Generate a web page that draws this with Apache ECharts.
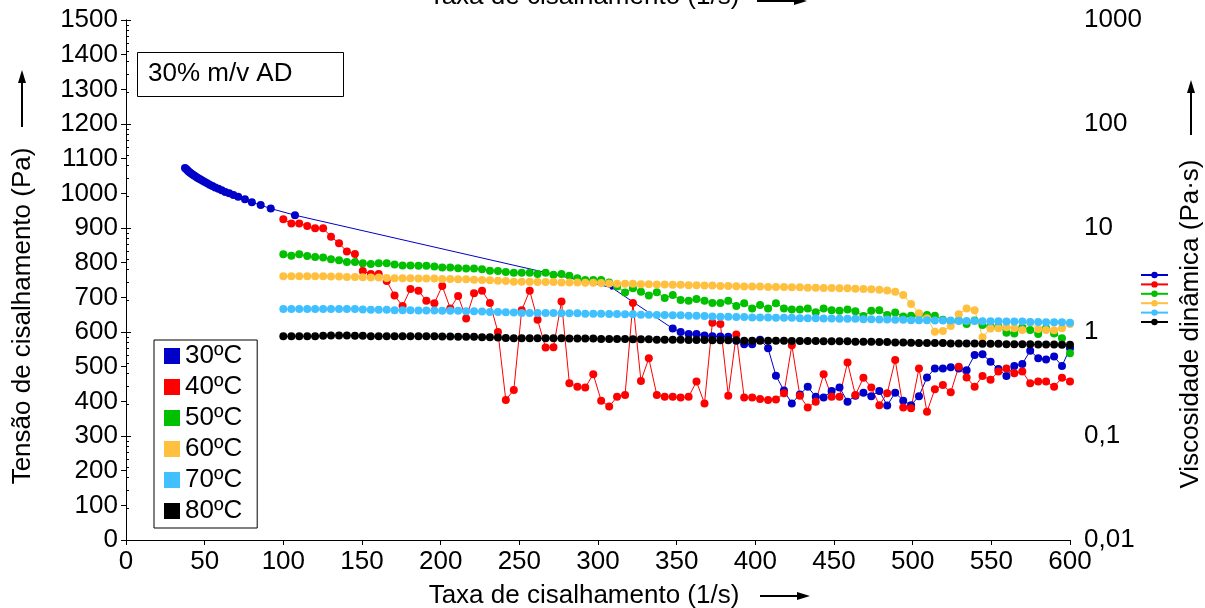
<!DOCTYPE html>
<html>
<head>
<meta charset="utf-8">
<script src="https://cdn.jsdelivr.net/npm/echarts@6/dist/echarts.min.js"></script>
<style>html,body{margin:0;padding:0;background:#fff}#c{width:1205px;height:608px}</style>
</head>
<body>
<div id="c"></div>
<script>
// ---------------- DATA ----------------
const seriesNames = ['30ºC', '40ºC', '50ºC', '60ºC', '70ºC', '80ºC'];
const xTicks = [0, 600, 50];
const yTicksLeft = [0, 1500, 100];
const rightTickLabels = ['0,01', '0,1', '1', '10', '100', '1000'];

// shear rate grid (1/s) used by 40–80 ºC
const rates = [100.0,105.1,110.1,115.2,120.2,125.3,130.3,135.4,140.4,145.5,
  150.5,155.6,160.6,165.7,170.7,175.8,180.8,185.9,190.9,196.0,
  201.0,206.1,211.1,216.2,221.2,226.3,231.3,236.4,241.4,246.5,
  251.5,256.6,261.6,266.7,271.7,276.8,281.8,286.9,291.9,297.0,
  302.0,307.1,312.1,317.2,322.2,327.3,332.3,337.4,342.4,347.5,
  352.5,357.6,362.6,367.7,372.7,377.8,382.8,387.9,392.9,398.0,
  403.0,408.1,413.1,418.2,423.2,428.3,433.3,438.4,443.4,448.5,
  453.5,458.6,463.6,468.7,473.7,478.8,483.8,488.9,494.0,499.0,
  504.0,509.1,514.1,519.2,524.2,529.3,534.3,539.4,544.4,549.5,
  554.5,559.6,564.6,569.7,574.7,579.8,584.8,589.9,594.9,600.0];

// 30 ºC has its own shear rates
const rates30 = [37.5,38.2,38.9,39.6,40.4,41.2,42.1,43.0,44.0,45.1,
  46.2,47.4,48.7,50.1,51.6,53.2,54.9,56.7,58.7,60.8,
  63.1,65.6,68.3,71.3,75.6,80.0,85.6,92.0,107.4,308.7,
  347.5,352.5,357.6,362.6,367.7,372.7,377.8,382.8,387.9,392.9,
  398.0,403.0,408.1,413.1,418.2,423.2,428.3,433.3,438.4,443.4,
  448.5,453.5,458.6,463.6,468.7,473.7,478.8,483.8,488.9,494.0,
  499.0,504.0,509.1,514.1,519.2,524.2,529.3,534.3,539.4,544.4,
  549.5,554.5,559.6,564.6,569.7,574.7,579.8,584.8,589.9,594.9,600.0];
const stress30 = [1073,1070,1067,1064,1061,1058,1055,1052,1049,1046,
  1043,1040,1036,1033,1029,1025,1021,1017,1013,1009,
  1004,1000,995,990,983,974,966,956,937,728,
  610,600,594,594,590,588,587,586,575,565,
  565,578,553,474,431,394,420,442,413,411,
  430,440,399,416,425,415,430,388,425,402,
  389,415,469,495,495,498,495,490,534,536,
  514,493,473,502,508,546,524,521,529,502,553];

const stress40 = [925,913,913,906,899,899,875,856,832,825,
  776,767,767,747,705,675,724,719,690,683,
  733,668,704,639,712,719,684,600,404,433,
  663,719,635,555,556,688,452,442,440,478,
  402,385,413,418,684,459,524,418,413,413,
  411,413,457,394,627,623,416,593,411,411,
  407,404,405,423,562,416,382,399,478,413,
  413,512,418,468,440,389,423,519,382,380,
  495,370,435,447,426,500,469,442,473,462,
  486,495,481,486,452,457,457,442,468,457];

const stress50 = [824,820,824,819,816,815,810,807,802,802,
  798,796,798,798,795,792,792,791,791,789,
  786,786,784,783,783,781,777,776,773,771,
  771,771,767,771,765,767,762,755,750,750,
  750,743,731,714,726,716,705,715,698,707,
  692,690,695,690,684,684,690,675,683,668,
  678,668,683,668,665,665,668,657,668,663,
  661,665,660,646,661,663,649,656,645,647,
  650,649,647,635,630,633,623,633,620,615,
  615,598,596,613,606,594,611,596,582,539];

const stress60 = [761,761,761,761,761,761,760,760,759,759,
  758,757,757,756,755,755,755,754,754,754,
  753,753,752,752,751,750,749,748,747,745,
  745,745,744,744,744,743,743,743,742,742,
  741,740,739,739,739,738,738,737,737,736,
  736,735,735,734,734,733,733,732,731,731,
  731,730,730,730,729,729,728,728,727,727,
  726,726,725,724,723,722,720,716,707,681,
  654,640,601,603,617,651,668,663,585,610,
  611,614,611,606,628,609,606,605,611,623];

const stress70 = [666,666,666,666,666,666,666,666,666,666,
  665,664,664,664,663,663,663,662,662,662,
  661,661,661,660,660,659,658,658,657,656,
  655,655,655,655,655,654,654,654,653,653,
  653,652,652,651,651,650,650,649,649,648,
  648,647,647,646,645,644,644,643,643,642,
  642,642,641,641,641,640,640,640,639,639,
  638,638,638,637,637,636,636,635,635,634,
  634,634,633,633,633,632,632,632,631,631,
  631,630,630,630,629,629,628,628,628,627];

const stress80 = [588,588,588,588,588,589,590,590,590,589,
  589,588,588,588,588,588,588,588,588,588,
  587,587,586,586,586,585,585,584,583,582,
  582,582,582,582,582,582,581,581,581,581,
  580,580,580,580,579,579,579,578,578,578,
  578,577,577,577,576,576,576,576,575,575,
  575,575,575,575,574,574,574,574,573,573,
  573,573,572,572,572,571,571,570,570,569,
  568,568,568,568,567,567,567,567,566,566,
  566,565,565,565,565,564,564,564,563,563];

const colors = ['#0000C8', '#FF0000', '#00C000', '#FFC040', '#40C0FF', '#000000'];
// --------------------------------------

const FONT = 'Liberation Sans, Arial, sans-serif';
const FS = 26;

function pairs(xs, ys) { return xs.map((x, i) => [x, ys[i]]); }
const allY = [stress30, stress40, stress50, stress60, stress70, stress80];
const allX = [rates30, rates, rates, rates, rates, rates];

const series = seriesNames.map((n, k) => {
  let data = pairs(allX[k], allY[k]);
  if (k === 0) {
    data = data.map(d => d[0] > 300 && d[0] < 340 ? { value: d, symbolSize: 4 } : d);
  }
  return {
    name: n, type: 'line', xAxisIndex: 0, yAxisIndex: 0,
    data: data, symbol: 'circle', symbolSize: 8, showSymbol: true,
    color: colors[k],
    lineStyle: { width: 1, color: colors[k] },
    itemStyle: { color: colors[k] },
    animation: false
  };
});

function arrowH(x1, x2, y) {
  return [
    { type: 'line', shape: { x1: x1, y1: y, x2: x2 - 8, y2: y }, style: { stroke: '#000', lineWidth: 2 } },
    { type: 'polygon', shape: { points: [[x2, y], [x2 - 13, y - 4], [x2 - 13, y + 4]] }, style: { fill: '#000' } }
  ];
}
function arrowV(x, y1, y2) { // y1 bottom, y2 top (head)
  return [
    { type: 'line', shape: { x1: x, y1: y1, x2: x, y2: y2 + 8 }, style: { stroke: '#000', lineWidth: 2 } },
    { type: 'polygon', shape: { points: [[x, y2], [x - 4, y2 + 13], [x + 4, y2 + 13]] }, style: { fill: '#000' } }
  ];
}

const chart = echarts.init(document.getElementById('c'), null, { renderer: 'canvas' });
chart.setOption({
  backgroundColor: '#fff',
  animation: false,
  textStyle: { fontFamily: FONT },
  grid: { left: 126, right: 135, top: 20, bottom: 68, containLabel: false, outerBoundsMode: 'none' },
  title: {
    text: '30% m/v AD', left: 137, top: 52,
    padding: [9, 51, 10, 11],
    borderColor: '#000', borderWidth: 1,
    textStyle: { fontFamily: FONT, fontSize: FS, fontWeight: 'normal', color: '#000' }
  },
  legend: [{
    data: seriesNames.map(n => ({ name: n, icon: 'rect' })),
    orient: 'vertical', left: 154, top: 340,
    itemWidth: 16, itemHeight: 16, itemGap: 5, itemTextGap: 6,
    padding: [3, 15, 4, 10],
    borderColor: '#000', borderWidth: 1,
    textStyle: { fontFamily: FONT, fontSize: FS, color: '#000' },
    selectedMode: false
  }, {
    data: seriesNames,
    orient: 'vertical', left: 1140, top: 271,
    itemWidth: 27, itemHeight: 8, itemGap: 2.2, itemTextGap: 0,
    padding: 0,
    formatter: () => '',
    textStyle: { fontSize: 1 },
    selectedMode: false
  }],
  xAxis: [{
    type: 'value', position: 'bottom', min: xTicks[0], max: xTicks[1], interval: xTicks[2],
    name: 'Taxa de cisalhamento (1/s)', nameLocation: 'middle', nameGap: 43,
    nameTextStyle: { fontFamily: FONT, fontSize: FS, color: '#000', padding: [0, 28, 0, 0] },
    axisLine: { show: true, lineStyle: { color: '#000', width: 1 } },
    axisTick: { show: true, inside: false, length: 5, lineStyle: { color: '#000' } },
    axisLabel: { fontFamily: FONT, fontSize: FS, color: '#000', margin: 9, formatter: v => String(v) },
    splitLine: { show: false }
  }, {
    type: 'value', position: 'top', min: xTicks[0], max: xTicks[1], interval: xTicks[2],
    name: 'Taxa de cisalhamento (1/s)', nameLocation: 'middle', nameGap: 10,
    nameTextStyle: { fontFamily: FONT, fontSize: FS, color: '#000', padding: [0, 28, 0, 0] },
    axisLine: { show: false }, axisTick: { show: false }, axisLabel: { show: false },
    splitLine: { show: false }
  }],
  yAxis: [{
    type: 'value', position: 'left', min: yTicksLeft[0], max: yTicksLeft[1], interval: yTicksLeft[2],
    name: 'Tensão de cisalhamento (Pa)', nameLocation: 'middle', nameGap: 90,
    nameTextStyle: { fontFamily: FONT, fontSize: FS, color: '#000', padding: [0, 72, 0, 0] },
    axisLine: { show: true, lineStyle: { color: '#000', width: 1 } },
    axisTick: { show: true, inside: false, length: 5, lineStyle: { color: '#000' } },
    axisLabel: { fontFamily: FONT, fontSize: FS, color: '#000', margin: 8, formatter: v => String(v) },
    splitLine: { show: false }
  }, {
    type: 'log', position: 'right', min: 0.01, max: 1000, logBase: 10,
    name: 'Viscosidade dinâmica (Pa·s)', nameLocation: 'middle', nameGap: 108,
    nameTextStyle: { fontFamily: FONT, fontSize: FS, color: '#000', padding: [0, 88, 0, 0] },
    axisLine: { show: true, lineStyle: { color: '#000', width: 1 } },
    axisTick: { show: true, inside: false, length: 5, lineStyle: { color: '#000' } },
    minorTick: { show: true, splitNumber: 9, length: 3, lineStyle: { color: '#000' } },
    axisLabel: {
      fontFamily: FONT, fontSize: FS, color: '#000', margin: 14,
      formatter: (v) => {
        const e = Math.round(Math.log10(v)) + 2;
        return rightTickLabels[e] !== undefined ? rightTickLabels[e] : '';
      }
    },
    splitLine: { show: false }
  }],
  graphic: [].concat(
    arrowH(760, 810, 596),
    arrowH(757, 807, 1),
    arrowV(22, 127, 70),
    arrowV(1191, 135, 80)
  ),
  series: series
});
</script>
</body>
</html>
